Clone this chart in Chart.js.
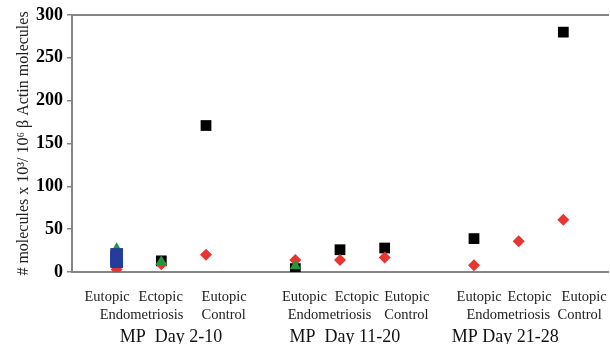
<!DOCTYPE html>
<html>
<head>
<meta charset="utf-8">
<script src="https://cdn.jsdelivr.net/npm/chart.js@4.4.1/dist/chart.umd.min.js"></script>
<style>
  html, body { margin: 0; padding: 0; background: #fff; }
  #wrap { width: 610px; height: 344px; }
</style>
</head>
<body>
<div id="wrap"><canvas id="chart" width="610" height="344"></canvas></div>
<script>
// positions along the x axis: 1-3 = MP Day 2-10, 5-7 = Day 11-20, 9-11 = Day 21-28
const blackX = [1, 2, 3, 5, 6, 7, 9, 11];
const blackValues = [20, 13, 171, 4, 26, 28, 39, 280];

const redX = [1, 2, 3, 5, 6, 7, 9, 10, 11];
const redValues = [3, 9, 20, 14, 14, 17, 8, 36, 61];

const greenX = [1, 2, 5];
const greenValues = [27, 12, 7];

const blueX = [1, 1, 1, 1, 1];
const blueValues = [12, 14, 16, 18, 20.5];

const rowOneLabels = ['Eutopic', 'Ectopic', 'Eutopic', 'Eutopic', 'Ectopic', 'Eutopic', 'Eutopic', 'Ectopic', 'Eutopic'];
const rowTwoLabels = ['Endometriosis', 'Control', 'Endometriosis', 'Control', 'Endometriosis', 'Control'];
const groupLabels = ['MP  Day 2-10', 'MP  Day 11-20', 'MP Day 21-28'];
const yTicks = [0, 50, 100, 150, 200, 250, 300];
const yTitle = '# molecules x 10\u00B3/ 10\u2076 \u03B2 Actin molecules';

const toPoints = (xs, ys) => xs.map((x, i) => ({ x, y: ys[i] }));

// left edge of every label, in x axis units
const rowOneAt = [0.28, 1.49, 2.9, 4.7, 5.88, 6.99, 8.61, 9.75, 10.96];
const rowTwoAt = [0.62, 2.9, 4.83, 6.99, 8.83, 10.87];
const groupAt = [1.07, 4.87, 8.5];

const axisGrey = '#858585';

const labelsPlugin = {
  id: 'groupLabels',
  afterDraw(chart) {
    const ctx = chart.ctx;
    const xs = chart.scales.x;
    const bottom = chart.chartArea.bottom;
    ctx.save();
    ctx.fillStyle = '#222';
    ctx.textAlign = 'left';
    ctx.textBaseline = 'alphabetic';
    ctx.font = '14.5px "Liberation Serif", serif';
    rowOneLabels.forEach((t, i) => ctx.fillText(t, xs.getPixelForValue(rowOneAt[i]), bottom + 29));
    rowTwoLabels.forEach((t, i) => ctx.fillText(t, xs.getPixelForValue(rowTwoAt[i]), bottom + 47));
    ctx.fillStyle = '#111';
    ctx.font = '18px "Liberation Serif", serif';
    groupLabels.forEach((t, i) => ctx.fillText(t, xs.getPixelForValue(groupAt[i]), bottom + 70));
    ctx.restore();
  }
};

const ctx = document.getElementById('chart').getContext('2d');
new Chart(ctx, {
  type: 'scatter',
  data: {
    datasets: [
      {
        label: 'blue',
        data: toPoints(blueX, blueValues),
        pointStyle: 'rect',
        pointRadius: 9,
        backgroundColor: '#243c9a',
        borderColor: '#243c9a',
        borderWidth: 0,
      },
      {
        label: 'green',
        data: toPoints(greenX, greenValues),
        pointStyle: 'triangle',
        pointRadius: 6.5,
        backgroundColor: '#23963f',
        borderColor: '#23963f',
        borderWidth: 0,
      },
      {
        label: 'red',
        data: toPoints(redX, redValues),
        pointStyle: 'rectRot',
        pointRadius: 6,
        backgroundColor: '#e8352f',
        borderColor: '#e8352f',
        borderWidth: 0,
      },
      {
        label: 'black',
        data: toPoints(blackX, blackValues),
        pointStyle: 'rect',
        pointRadius: 7.6,
        backgroundColor: '#000',
        borderColor: '#000',
        borderWidth: 0,
      },
    ],
  },
  options: {
    responsive: false,
    animation: false,
    events: [],
    layout: { autoPadding: false, padding: { top: 0, right: 2, bottom: 0, left: 0 } },
    plugins: {
      legend: { display: false },
      tooltip: { enabled: false },
    },
    scales: {
      x: {
        type: 'linear',
        min: 0,
        max: 12,
        ticks: { display: false },
        grid: { display: false },
        border: { display: true, color: axisGrey, width: 2 },
        afterFit: scale => { scale.height = 72; },
      },
      xTop: {
        type: 'linear',
        position: 'top',
        min: 0,
        max: 12,
        ticks: { display: false },
        grid: { display: false },
        border: { display: true, color: axisGrey, width: 2 },
        afterFit: scale => { scale.height = 15; },
      },
      y: {
        min: 0,
        max: 300,
        afterBuildTicks: scale => { scale.ticks = yTicks.map(v => ({ value: v })); },
        ticks: {
          color: '#000',
          padding: 4,
          font: { family: '"Liberation Serif", serif', size: 18, weight: 'bold' },
        },
        grid: { drawOnChartArea: false, drawTicks: true, tickLength: 5, color: axisGrey, lineWidth: 1.5 },
        border: { display: true, color: axisGrey, width: 2 },
        title: {
          display: true,
          text: yTitle,
          color: '#222',
          padding: { top: 14, bottom: 0 },
          font: { family: '"Liberation Serif", serif', size: 16 },
        },
        afterFit: scale => { scale.width = 72; },
      },
    },
  },
  plugins: [labelsPlugin],
});
</script>
</body>
</html>
